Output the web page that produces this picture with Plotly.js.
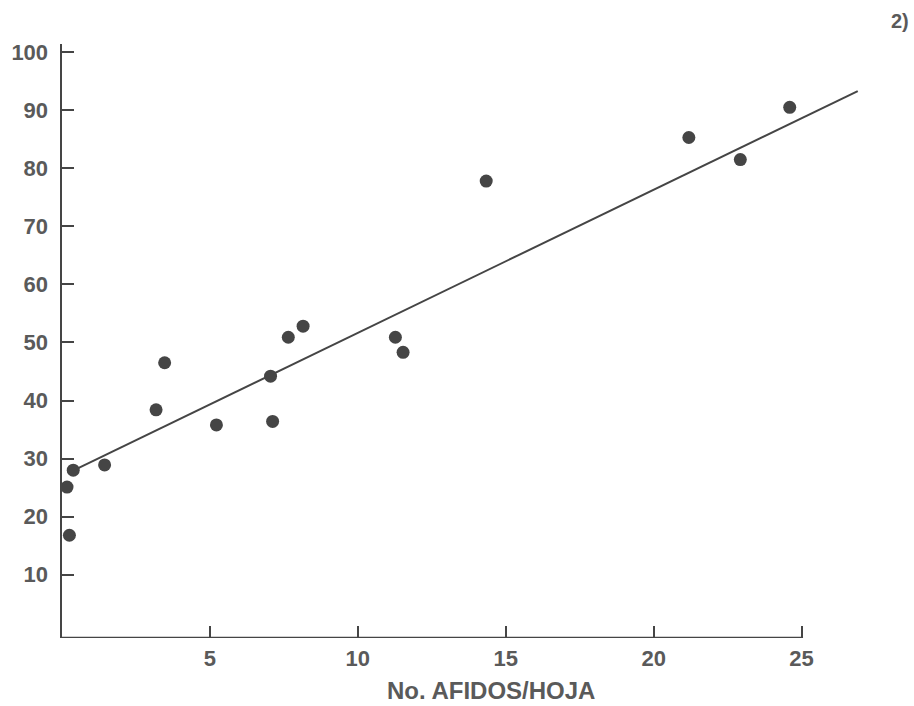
<!DOCTYPE html>
<html>
<head>
<meta charset="utf-8">
<script src="https://cdn.plot.ly/plotly-3.0.1.min.js"></script>
<style>html,body{margin:0;padding:0;background:#fff;}#chart{width:914px;height:706px;}</style>
</head>
<body>
<div id="chart"></div>
<script>
// Observed points: aphids per leaf (x) vs. percentage (y)
var afidosX = [0.17, 0.38, 0.25, 1.44, 3.18, 3.47, 5.22, 7.05, 7.12, 7.65, 8.15, 11.27, 11.53, 14.34, 21.19, 22.93, 24.6];
var valoresY = [25.1, 28.0, 16.8, 28.9, 38.4, 46.5, 35.8, 44.2, 36.4, 50.9, 52.8, 50.9, 48.3, 77.8, 85.3, 81.5, 90.5];
// Fitted regression line as drawn (end points)
var rectaX = [0.2, 26.9];
var rectaY = [27.5, 93.3];
// Tick labels
var xTicks = [5, 10, 15, 20, 25];
var yTicks = [10, 20, 30, 40, 50, 60, 70, 80, 90, 100];
var xTitle = 'No. AFIDOS/HOJA';

var ink = '#454545';
var txt = '#5a5a5a';
var fam = '"Liberation Sans", Arial, sans-serif';
var fnt = {family: fam, size: 22, color: txt, weight: 'bold'};

var traces = [
  {x: rectaX, y: rectaY, mode: 'lines', line: {color: ink, width: 2}, hoverinfo: 'skip', showlegend: false},
  {x: afidosX, y: valoresY, mode: 'markers', marker: {color: ink, size: 13}, cliponaxis: false, showlegend: false}
];

var layout = {
  width: 914, height: 706,
  margin: {l: 62, r: 45, t: 44, b: 68},
  paper_bgcolor: '#ffffff', plot_bgcolor: '#ffffff',
  showlegend: false,
  xaxis: {
    range: [0, 27.28], showgrid: false, zeroline: false, showline: false,
    tickmode: 'array', tickvals: xTicks, ticktext: xTicks.map(String),
    ticks: 'inside', ticklen: 12, tickwidth: 2, tickcolor: ink,
    tickfont: fnt, ticklabelstandoff: 5
  },
  yaxis: {
    range: [-0.9, 101.4], showgrid: false, zeroline: false,
    showline: true, linecolor: ink, linewidth: 2.5,
    tickmode: 'array', tickvals: yTicks, ticktext: yTicks.map(String),
    ticks: 'inside', ticklen: 12, tickwidth: 2, tickcolor: ink,
    tickfont: fnt, ticklabelstandoff: 7
  },
  shapes: [
    {type: 'line', xref: 'x', yref: 'y', x0: 0, x1: 25.05, y0: -0.9, y1: -0.9, line: {color: ink, width: 2.5}}
  ],
  annotations: [
    {text: xTitle, xref: 'paper', yref: 'paper', x: 0.532, y: -0.0892, xanchor: 'center', yanchor: 'middle',
     showarrow: false, font: {family: fam, size: 24, color: txt, weight: 'bold'}},
    {text: '2)', xref: 'paper', yref: 'paper', x: 1.0, y: 1.0, xanchor: 'left', yanchor: 'bottom',
     xshift: 20, yshift: 10, showarrow: false, font: {family: fam, size: 20, color: txt, weight: 'bold'}}
  ]
};

Plotly.newPlot('chart', traces, layout, {displayModeBar: false, staticPlot: true});
</script>
</body>
</html>
